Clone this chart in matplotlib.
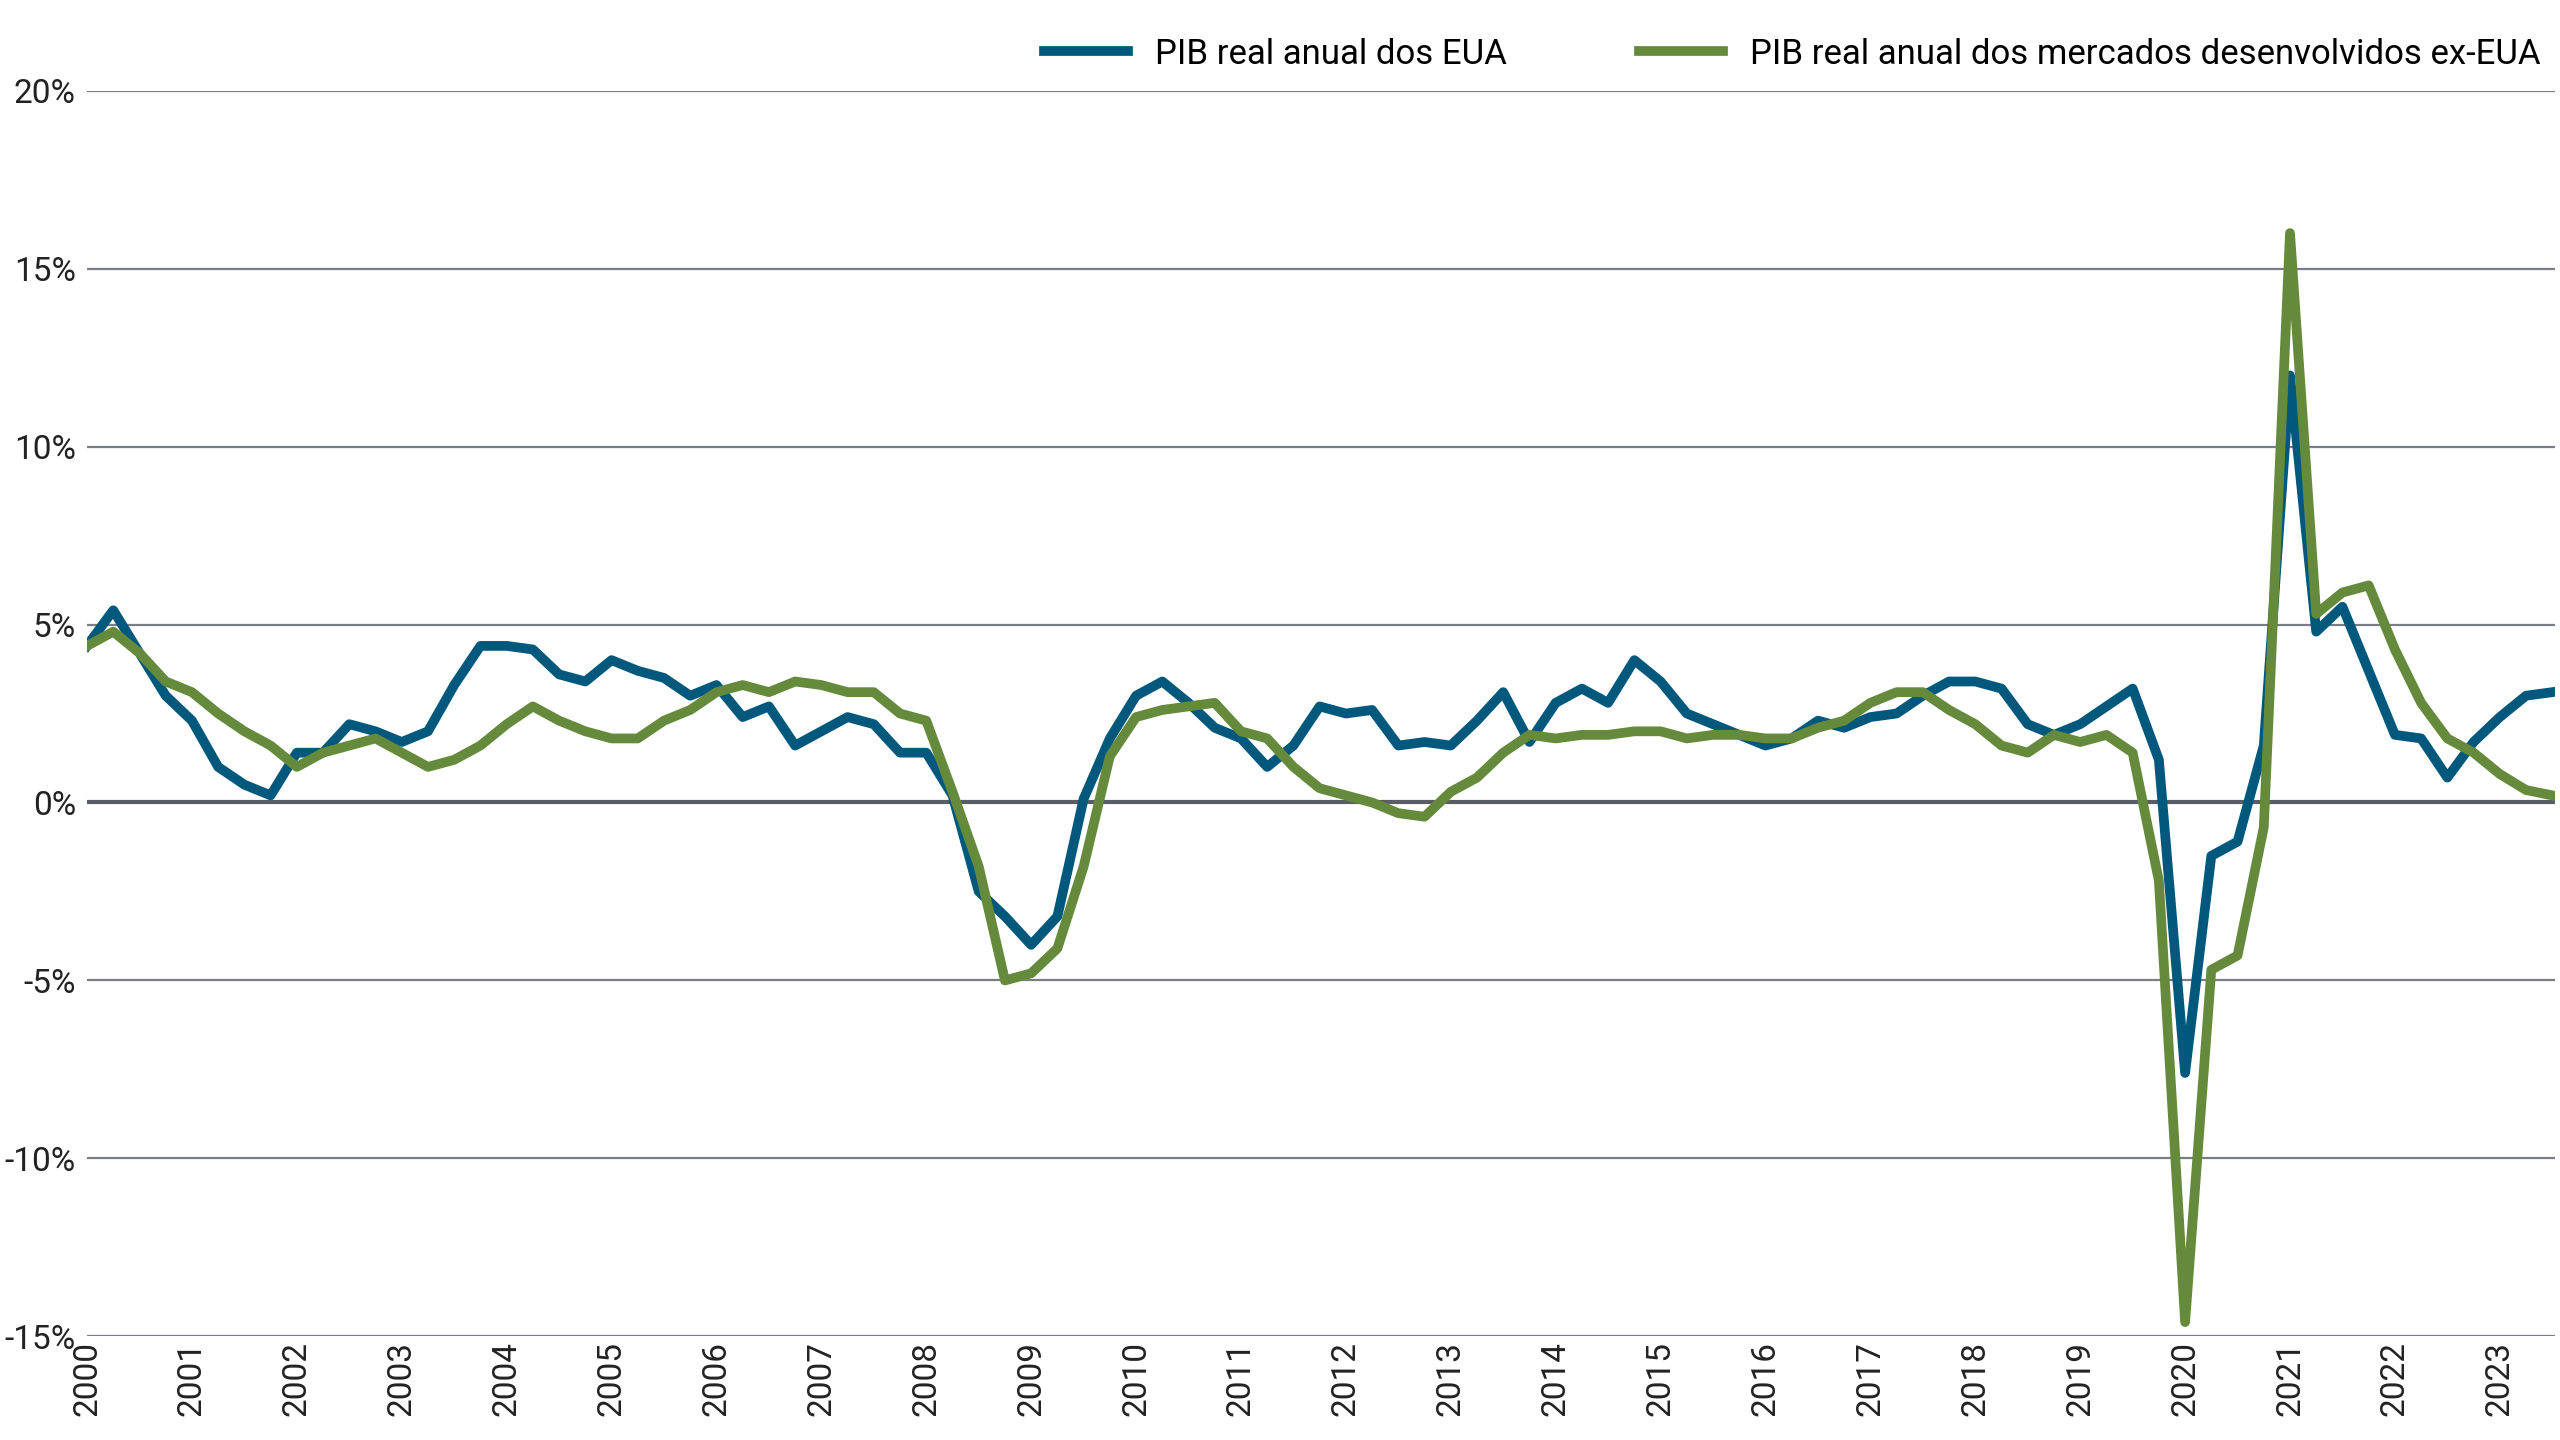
import numpy as np
import matplotlib.pyplot as plt
from matplotlib.ticker import FuncFormatter

years = list(range(2000, 2024))
us_gdp = [4.4, 5.4, 4.2, 3.0,
          2.3, 1.0, 0.5, 0.2,
          1.4, 1.4, 2.2, 2.0,
          1.7, 2.0, 3.3, 4.4,
          4.4, 4.3, 3.6, 3.4,
          4.0, 3.7, 3.5, 3.0,
          3.3, 2.4, 2.7,
          1.6, 2.0, 2.4, 2.2,
          1.4, 1.4, 0.2, -2.5,
          -3.2, -4.0, -3.2, 0.1,
          1.8, 3.0, 3.4, 2.8,
          2.1, 1.8, 1.0, 1.6,
          2.7, 2.5, 2.6, 1.6,
          1.7, 1.6, 2.3, 3.1,
          1.7, 2.8, 3.2, 2.8,
          4.0, 3.4, 2.5, 2.2,
          1.9, 1.6, 1.8, 2.3,
          2.1, 2.4, 2.5, 3.0,
          3.4, 3.4, 3.2, 2.2,
          1.9, 2.2, 2.7, 3.2,
          1.2, -7.6, -1.5, -1.1,
          1.6, 12.0, 4.8, 5.5,
          3.7, 1.9, 1.8, 0.7,
          1.7, 2.4, 3.0, 3.1]
exus_gdp = [4.4, 4.8, 4.2, 3.4,
            3.1, 2.5, 2.0, 1.6,
            1.0, 1.4, 1.6, 1.8,
            1.4, 1.0, 1.2, 1.6,
            2.2, 2.7, 2.3, 2.0,
            1.8, 1.8, 2.3, 2.6,
            3.1, 3.3, 3.1, 3.4,
            3.3, 3.1, 3.1, 2.5,
            2.3, 0.3, -1.8, -5.0,
            -4.8, -4.1, -1.8, 1.3,
            2.4, 2.6, 2.7, 2.8,
            2.0, 1.8, 1.0, 0.4,
            0.2, 0.0, -0.3, -0.4,
            0.3, 0.7, 1.4, 1.9,
            1.8, 1.9, 1.9, 2.0,
            2.0, 1.8, 1.9, 1.9,
            1.8, 1.8, 2.1, 2.3,
            2.8, 3.1, 3.1, 2.6,
            2.2, 1.6, 1.4, 1.9,
            1.7, 1.9, 1.4, -2.2,
            -14.6, -4.7, -4.3, -0.7,
            16.0, 5.3, 5.9, 6.1,
            4.3, 2.8, 1.8, 1.4,
            0.8, 0.35, 0.2]
labels = ["PIB real anual dos EUA", "PIB real anual dos mercados desenvolvidos ex-EUA"]

plt.rcParams['font.family'] = ['Roboto', 'DejaVu Sans']
fig = plt.figure(figsize=(25.6, 14.4), dpi=100)
ax = fig.add_axes([0.034, 0.072, 0.964, 0.865])

x = np.arange(len(us_gdp))
ax.plot(x, us_gdp, color="#00587c", lw=7, label=labels[0])
ax.plot(x, exus_gdp, color="#658a3c", lw=7, label=labels[1])

ax.set_ylim(-15, 20)
ax.set_xlim(0, len(us_gdp) - 0.9)
ax.set_yticks(range(-15, 21, 5))
ax.yaxis.set_major_formatter(FuncFormatter(lambda v, p: f"{int(v)}%"))
ax.set_xticks(np.arange(len(years)) * 4)
ax.set_xticklabels([str(y) for y in years], rotation=90)
ax.tick_params(length=0, labelsize=24, colors="#222222")
ax.tick_params(axis="y", pad=8)
for v in range(-15, 21, 5):
    ax.axhline(v, color="#5a5d66" if v == 0 else "#7a7d85",
               lw=3 if v == 0 else 1.6, zorder=0)
for s in ax.spines.values():
    s.set_visible(False)

ax.legend(loc="lower right", bbox_to_anchor=(1.0, 1.005), ncol=2, frameon=False,
          fontsize=25, handlelength=2.4, columnspacing=3.8, borderaxespad=0)
fig.savefig("out.png")
